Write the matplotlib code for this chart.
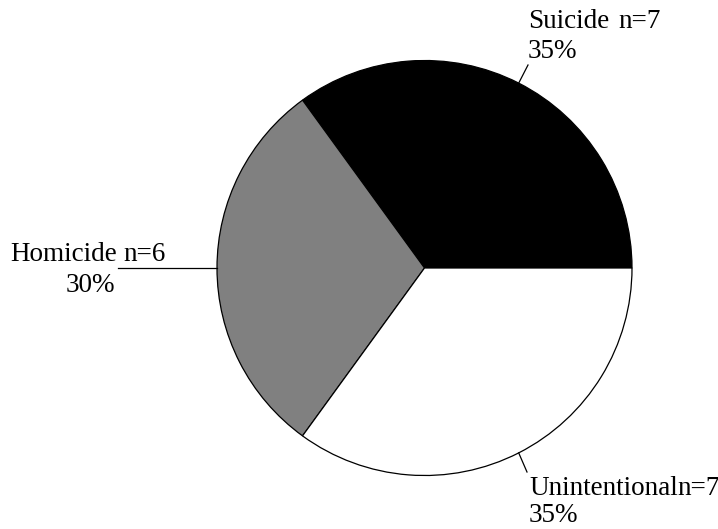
import numpy as np
import matplotlib.pyplot as plt

plt.rcParams["font.family"] = ["Liberation Serif", "DejaVu Serif"]

# causes of death, counts and shares
categories = ["Suicide", "Homicide", "Unintentional"]
counts = [7, 6, 7]
percents = [35, 30, 35]
colors = ["#000000", "#808080", "#ffffff"]

W, H = 718, 529
CX, CY, R = 424.5, 268.0, 207.5  # pie centre / radius in pixels


def px(x, y):
    """pixel position -> pie data coordinates (radius 1 at origin)"""
    return (x - CX) / R, (CY - y) / R


fig = plt.figure(figsize=(W / 100, H / 100), dpi=100)
ax = fig.add_axes([0, 0, 1, 1])
ax.set_xlim(px(0, 0)[0], px(W, 0)[0])
ax.set_ylim(px(0, H)[1], px(0, 0)[1])
ax.set_aspect("equal")
ax.axis("off")

wedges, _ = ax.pie(
    percents,
    colors=colors,
    startangle=0,
    counterclock=True,
    radius=1,
    center=(0, 0),
    wedgeprops=dict(edgecolor="black", linewidth=0.9),
    frame=True,
)
ax.set_xlim(px(0, 0)[0], px(W, 0)[0])
ax.set_ylim(px(0, H)[1], px(0, 0)[1])
ax.axis("off")

# leader line ends (pixels) for each slice
leader_end = [(528, 65), (118, 268), (527, 472)]
fs = 19.5
for w, end in zip(wedges, leader_end):
    mid = np.deg2rad((w.theta1 + w.theta2) / 2)
    x0, y0 = np.cos(mid), np.sin(mid)
    x1, y1 = px(*end)
    ax.plot([x0, x1], [y0, y1], color="black", lw=0.9)

# Suicide
ax.text(*px(528, 28), categories[0], fontsize=fs, ha="left", va="baseline")
ax.text(*px(618, 28), f"n={counts[0]}", fontsize=fs, ha="left", va="baseline")
ax.text(*px(528, 58), f"{percents[0]}%", fontsize=fs, ha="left", va="baseline")

# Homicide
ax.text(*px(117, 261), categories[1], fontsize=fs, ha="right", va="baseline")
ax.text(*px(123, 261), f"n={counts[1]}", fontsize=fs, ha="left", va="baseline")
ax.text(*px(115, 292), f"{percents[1]}%", fontsize=fs, ha="right", va="baseline")

# Unintentional
ax.text(*px(529, 495), categories[2], fontsize=fs, ha="left", va="baseline")
ax.text(*px(677, 495), f"n={counts[2]}", fontsize=fs, ha="left", va="baseline")
ax.text(*px(529, 522), f"{percents[2]}%", fontsize=fs, ha="left", va="baseline")

fig.savefig("out.png", dpi=100)
